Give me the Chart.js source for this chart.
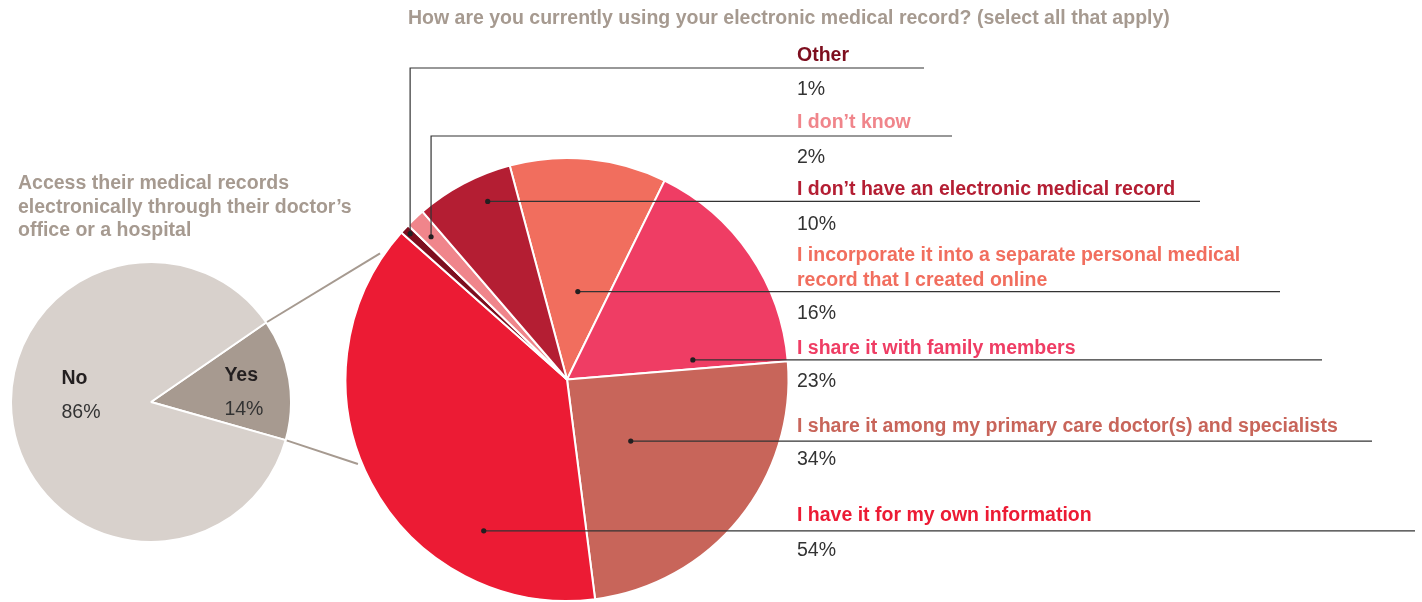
<!DOCTYPE html>
<html lang="en">
<head>
    <meta charset="UTF-8">
    <meta name="viewport" content="width=device-width, initial-scale=1.0">
    <title>Electronic Medical Record Use</title>
    <style>
        * { margin: 0; padding: 0; box-sizing: border-box; }
        body { width: 1422px; height: 602px; overflow: hidden; background: #fff; position: relative;
               font-family: 'Liberation Sans', Arial, Helvetica, sans-serif; }
        canvas { position: absolute; }
        #useChart { left: 0; top: 0; }
        #accessChart { left: 10px; top: 261px; }
        .heading { position: absolute; color: #A69A90; font-weight: bold; font-size: 19.5px; line-height: 23.5px; white-space: nowrap; }
        #useTitle { left: 408px; top: 6px; }
        #accessTitle { left: 18px; top: 171px; }
    </style>
    <script src="https://cdn.jsdelivr.net/npm/chart.js"></script>
</head>
<body>
    <canvas id="useChart" width="1422" height="602"></canvas>
    <canvas id="accessChart" width="282" height="282"></canvas>
    <div class="heading" id="useTitle">How are you currently using your electronic medical record? (select all that apply)</div>
    <div class="heading" id="accessTitle">Access their medical records<br>electronically through their doctor’s<br>office or a hospital</div>

    <script>
        // Small pie: access through doctor's office or hospital
        const accessLabels = ['Yes', 'No'];
        const accessValues = [14, 86];
        const accessColors = ['#A79A90', '#D8D1CC'];

        // Big pie: how the record is used (select all that apply), clockwise from the top
        const useLabels = [
            ['I incorporate it into a separate personal medical', 'record that I created online'],
            ['I share it with family members'],
            ['I share it among my primary care doctor(s) and specialists'],
            ['I have it for my own information'],
            ['Other'],
            ['I don’t know'],
            ['I don’t have an electronic medical record']
        ];
        const useValues = [16, 23, 34, 54, 1, 2, 10];
        const useColors = ['#F16E5E', '#EF3D64', '#C8655A', '#EC1B34', '#7D0E1E', '#F0858B', '#B41E33'];

        const FONT = "'Liberation Sans', Arial, Helvetica, sans-serif";

        // point inside an arc: t = share of its angle, r = share of its radius
        function arcPoint(arc, t, r) {
            const a = arc.startAngle + (arc.endAngle - arc.startAngle) * t;
            const rr = arc.outerRadius * r;
            return { x: arc.x + Math.cos(a) * rr, y: arc.y + Math.sin(a) * rr };
        }

        // Yes / No captions inside the small pie
        const accessLabelPlugin = {
            id: 'accessLabels',
            afterDatasetsDraw(chart, args, opts) {
                const ctx = chart.ctx;
                const arcs = chart.getDatasetMeta(0).data;
                ctx.save();
                ctx.textAlign = 'left';
                ctx.textBaseline = 'alphabetic';
                arcs.forEach((arc, i) => {
                    const p = arcPoint(arc, opts.anchors[i].t, opts.anchors[i].r);
                    ctx.fillStyle = '#231F20';
                    ctx.font = `bold 19.5px ${FONT}`;
                    ctx.fillText(accessLabels[i], p.x, p.y - 6);
                    ctx.fillStyle = '#333';
                    ctx.font = `19.5px ${FONT}`;
                    ctx.fillText(accessValues[i] + '%', p.x, p.y + 28);
                });
                ctx.restore();
            }
        };

        const accessChart = new Chart(document.getElementById('accessChart'), {
            type: 'pie',
            data: {
                labels: accessLabels,
                datasets: [{ data: accessValues, backgroundColor: accessColors, borderColor: '#fff', borderWidth: 2 }]
            },
            options: {
                responsive: false,
                animation: false,
                events: [],
                rotation: 55.4,
                plugins: {
                    legend: { display: false },
                    tooltip: { enabled: false },
                    accessLabels: { anchors: [{ t: 0.46, r: 0.535 }, { t: 0.555, r: 0.645 }] }
                }
            },
            plugins: [accessLabelPlugin]
        });

        // lines from the Yes slice of the small pie over to the big pie
        const connectorPlugin = {
            id: 'connector',
            afterDraw(chart, args, opts) {
                const ctx = chart.ctx;
                const canvas = accessChart.canvas;
                const yes = accessChart.getDatasetMeta(0).data[0];
                const big = chart.getDatasetMeta(0).data[0];
                const ends = [yes.startAngle, yes.endAngle];
                ctx.save();
                ctx.strokeStyle = '#A69A90';
                ctx.lineWidth = 2;
                ends.forEach((a, i) => {
                    const sx = canvas.offsetLeft + yes.x + Math.cos(a) * yes.outerRadius;
                    const sy = canvas.offsetTop + yes.y + Math.sin(a) * yes.outerRadius;
                    const b = (opts.angles[i] - 90) * Math.PI / 180;
                    const r = big.outerRadius + 4;
                    ctx.beginPath();
                    ctx.moveTo(sx, sy);
                    ctx.lineTo(big.x + Math.cos(b) * r, big.y + Math.sin(b) * r);
                    ctx.stroke();
                });
                ctx.restore();
            }
        };

        // leader lines with dot, category name above and percentage below
        const useLabelPlugin = {
            id: 'useLabels',
            afterDatasetsDraw(chart, args, opts) {
                const ctx = chart.ctx;
                const arcs = chart.getDatasetMeta(0).data;
                ctx.save();
                arcs.forEach((arc, i) => {
                    const p = arcPoint(arc, opts.anchors[i].t, opts.anchors[i].r);
                    const lineY = opts.rows[i] !== null ? opts.rows[i] : p.y;

                    ctx.strokeStyle = '#333';
                    ctx.lineWidth = 1.2;
                    ctx.beginPath();
                    ctx.moveTo(p.x, p.y);
                    if (opts.rows[i] !== null) ctx.lineTo(p.x, lineY);
                    ctx.lineTo(opts.lineEnds[i], lineY);
                    ctx.stroke();

                    ctx.fillStyle = '#231F20';
                    ctx.beginPath();
                    ctx.arc(p.x, p.y, 2.6, 0, Math.PI * 2);
                    ctx.fill();

                    const lines = useLabels[i];
                    ctx.textAlign = 'left';
                    ctx.textBaseline = 'alphabetic';
                    ctx.font = `bold 19.5px ${FONT}`;
                    ctx.fillStyle = useColors[i];
                    lines.forEach((txt, j) => {
                        ctx.fillText(txt, opts.textX, lineY - opts.nameGaps[i] - (lines.length - 1 - j) * 24.5);
                    });
                    ctx.font = `19.5px ${FONT}`;
                    ctx.fillStyle = '#333';
                    ctx.fillText(useValues[i] + '%', opts.textX, lineY + opts.valueGaps[i]);
                });
                ctx.restore();
            }
        };

        new Chart(document.getElementById('useChart'), {
            type: 'pie',
            data: {
                labels: useLabels.map(l => l.join(' ')),
                datasets: [{ data: useValues, backgroundColor: useColors, borderColor: '#fff', borderWidth: 2 }]
            },
            options: {
                responsive: false,
                animation: false,
                events: [],
                rotation: -15,
                layout: { padding: { left: 344, right: 632, top: 157, bottom: 0 } },
                plugins: {
                    legend: { display: false },
                    tooltip: { enabled: false },
                    connector: { angles: [304, 248] },
                    useLabels: {
                        textX: 797,
                        anchors: [
                            { t: 0.535, r: 0.40 }, { t: 0.93, r: 0.575 }, { t: 0.557, r: 0.40 },
                            { t: 0.26, r: 0.78 }, { t: 0.52, r: 0.967 }, { t: 0.44, r: 0.89 },
                            { t: 0.65, r: 0.88 }
                        ],
                        rows: [null, null, null, null, 68, 136, null],
                        lineEnds: [1280, 1322, 1372, 1415, 924, 952, 1200],
                        nameGaps: [6, 6, 9.5, 10, 7.3, 7.7, 6],
                        valueGaps: [27.7, 27.5, 24, 25, 27, 26.7, 28.5]
                    }
                }
            },
            plugins: [useLabelPlugin, connectorPlugin]
        });
    </script>
</body>
</html>
